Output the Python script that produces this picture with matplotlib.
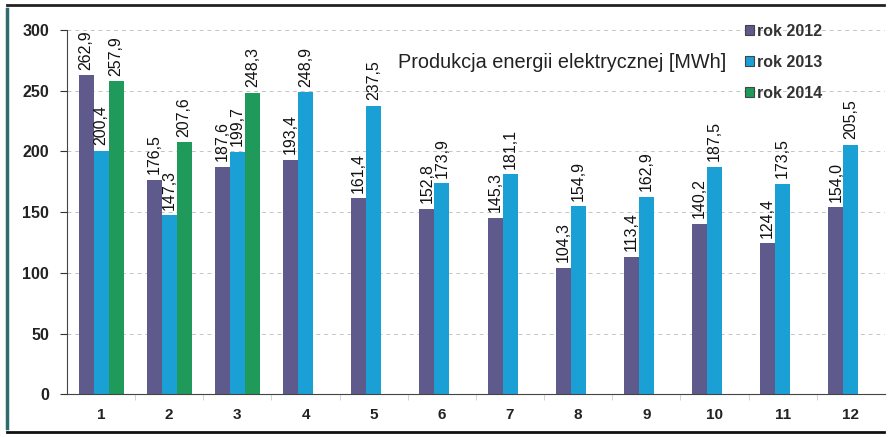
import numpy as np
import matplotlib
matplotlib.use('Agg')
import matplotlib.pyplot as plt
from matplotlib.lines import Line2D
from matplotlib.patches import Patch

plt.rcParams['font.family'] = ['Liberation Sans', 'DejaVu Sans']

# produkcja miesięczna [MWh]
months = [str(m) for m in range(1, 13)]
rok_2012 = [262.9, 176.5, 187.6, 193.4, 161.4, 152.8, 145.3, 104.3, 113.4, 140.2, 124.4, 154.0]
rok_2013 = [200.4, 147.3, 199.7, 248.9, 237.5, 173.9, 181.1, 154.9, 162.9, 187.5, 173.5, 205.5]
rok_2014 = [257.9, 207.6, 248.3]
series_names = ['rok 2012', 'rok 2013', 'rok 2014']
colors = ['#5f5a8c', '#1ba0d6', '#1f9a5a']
y_ticks = [0, 50, 100, 150, 200, 250, 300]

fig = plt.figure(figsize=(8.93, 4.37), dpi=100)
ax = fig.add_axes([0.075, 0.098, 0.916, 0.833])

x = np.arange(1, len(months) + 1)
w = 0.22

def fmt(v):
    return f"{v:.1f}".replace('.', ',')

all_series = [rok_2012, rok_2013, rok_2014]
for i, (vals, col) in enumerate(zip(all_series, colors)):
    xs = x[:len(vals)] + (i - 1) * w
    ax.bar(xs, vals, width=w, color=col, edgecolor='none', zorder=2)
    for xi, v in zip(xs, vals):
        ax.annotate(fmt(v), xy=(xi, v), xytext=(0, 4), textcoords='offset points',
                    rotation=90, ha='center', va='bottom', fontsize=11.5,
                    color='#111111', zorder=3)

ax.set_xlim(0.5, 12.5)
ax.set_ylim(0, 300)
ax.set_yticks(y_ticks)
ax.set_xticks(x)
ax.set_xticklabels(months)
ax.tick_params(axis='y', labelsize=11.5, length=5, width=0.8, pad=8, colors='#333333',
               labelcolor='#222222')
ax.tick_params(axis='x', labelsize=11, length=0, pad=10, labelcolor='#222222')
for t in ax.get_yticklabels() + ax.get_xticklabels():
    t.set_fontweight('bold')

# podziałki między miesiącami
ax.set_xticks(np.arange(1.5, 12.5, 1), minor=True)
ax.tick_params(axis='x', which='minor', length=4, color='#cccccc')

ax.grid(axis='y', color='#c4c4c4', linestyle=(0, (4, 4)), linewidth=0.7, zorder=0)
for s in ['top', 'right']:
    ax.spines[s].set_visible(False)
ax.spines['left'].set_color('#444444')
ax.spines['bottom'].set_color('#444444')

ax.text(0.405, 0.912, 'Produkcja energii elektrycznej [MWh]', transform=ax.transAxes,
        fontsize=14.3, color='#222222', ha='left', va='center')

handles = [Patch(facecolor=c, edgecolor='#444444', linewidth=0.8) for c in colors]
fig.legend(handles, series_names, loc='upper left', bbox_to_anchor=(0.818, 0.978),
           frameon=False, handlelength=0.6, handleheight=0.6,
           handletextpad=0.15, labelspacing=1.0,
           prop={'size': 11.5, 'weight': 'bold'})
for t in fig.legends[0].get_texts():
    t.set_color('#333333')

# ramka wokół wykresu
fig.add_artist(Line2D([0.008, 0.008], [0.02, 0.98], color='#2e6b6e', lw=2.5))
fig.add_artist(Line2D([0.008, 0.99], [0.988, 0.988], color='#222222', lw=2))
fig.add_artist(Line2D([0.008, 0.99], [0.012, 0.012], color='#111111', lw=2))

fig.savefig('out.png', dpi=100)
